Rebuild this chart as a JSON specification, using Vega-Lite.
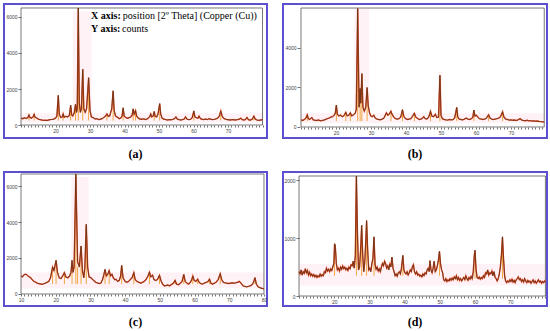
{
"$schema": "https://vega.github.io/schema/vega-lite/v6.json",
"padding": {"left": 3, "top": 3, "right": 0, "bottom": 0},
"bounds": "flush",
"columns": 2,
"spacing": {"row": 34, "column": 16},
"config": {
  "view": {"stroke": "#5b50cf", "strokeWidth": 2},
  "axis": {"domain": false, "grid": false, "tickColor": "#333", "tickWidth": 0.7, "labelFontSize": 5, "labelColor": "#444", "labelFont": "Liberation Sans", "title": null, "labelPadding": 1, "labelOverlap": false, "labelFlush": false},
  "title": {"font": "Liberation Serif", "fontSize": 12, "fontWeight": "bold", "color": "#000", "orient": "bottom", "offset": 11, "anchor": "middle"}
},
"datasets": {
"a": [{"t":10.0,"c":380},{"t":10.5,"c":350},{"t":11.0,"c":400},{"t":11.5,"c":360},{"t":12.0,"c":420},{"t":12.3,"c":560},{"t":12.6,"c":420},{"t":13.0,"c":380},{"t":13.5,"c":450},{"t":13.8,"c":600},{"t":14.1,"c":430},{"t":14.6,"c":380},{"t":15.0,"c":330},{"t":15.5,"c":300},{"t":16.0,"c":280},{"t":16.5,"c":260},{"t":17.0,"c":270},{"t":17.5,"c":250},{"t":18.0,"c":280},{"t":18.5,"c":300},{"t":19.0,"c":310},{"t":19.5,"c":330},{"t":20.0,"c":380},{"t":20.4,"c":500},{"t":20.8,"c":1650},{"t":21.1,"c":600},{"t":21.5,"c":420},{"t":22.0,"c":450},{"t":22.2,"c":620},{"t":22.5,"c":430},{"t":23.0,"c":480},{"t":23.5,"c":450},{"t":24.0,"c":520},{"t":24.4,"c":1100},{"t":24.7,"c":560},{"t":25.0,"c":500},{"t":25.4,"c":650},{"t":25.8,"c":1150},{"t":26.1,"c":700},{"t":26.3,"c":900},{"t":26.6,"c":6500},{"t":26.9,"c":1200},{"t":27.2,"c":700},{"t":27.5,"c":900},{"t":27.9,"c":3100},{"t":28.2,"c":900},{"t":28.6,"c":700},{"t":29.0,"c":900},{"t":29.6,"c":2630},{"t":30.0,"c":800},{"t":30.4,"c":450},{"t":31.0,"c":400},{"t":31.5,"c":330},{"t":32.0,"c":350},{"t":32.5,"c":300},{"t":33.0,"c":320},{"t":33.5,"c":350},{"t":34.0,"c":420},{"t":34.5,"c":500},{"t":34.9,"c":620},{"t":35.3,"c":480},{"t":35.7,"c":500},{"t":36.0,"c":700},{"t":36.3,"c":900},{"t":36.7,"c":1900},{"t":37.0,"c":800},{"t":37.4,"c":500},{"t":38.0,"c":420},{"t":38.5,"c":350},{"t":39.0,"c":400},{"t":39.3,"c":500},{"t":39.6,"c":960},{"t":39.9,"c":500},{"t":40.3,"c":420},{"t":40.8,"c":380},{"t":41.3,"c":400},{"t":41.8,"c":450},{"t":42.2,"c":550},{"t":42.5,"c":900},{"t":42.8,"c":600},{"t":43.2,"c":800},{"t":43.5,"c":500},{"t":44.0,"c":380},{"t":44.5,"c":330},{"t":45.0,"c":320},{"t":45.5,"c":340},{"t":46.0,"c":310},{"t":46.5,"c":330},{"t":47.0,"c":400},{"t":47.3,"c":450},{"t":47.6,"c":620},{"t":47.9,"c":450},{"t":48.3,"c":500},{"t":48.6,"c":750},{"t":48.9,"c":480},{"t":49.3,"c":450},{"t":49.7,"c":600},{"t":50.2,"c":1190},{"t":50.5,"c":600},{"t":50.9,"c":380},{"t":51.5,"c":320},{"t":52.0,"c":300},{"t":52.5,"c":280},{"t":53.0,"c":300},{"t":53.5,"c":290},{"t":54.0,"c":310},{"t":54.5,"c":350},{"t":54.9,"c":450},{"t":55.3,"c":330},{"t":55.8,"c":300},{"t":56.3,"c":280},{"t":56.8,"c":300},{"t":57.3,"c":330},{"t":57.7,"c":450},{"t":58.1,"c":320},{"t":58.6,"c":300},{"t":59.1,"c":310},{"t":59.6,"c":400},{"t":60.1,"c":780},{"t":60.4,"c":450},{"t":60.9,"c":400},{"t":61.3,"c":380},{"t":61.6,"c":500},{"t":62.0,"c":350},{"t":62.5,"c":320},{"t":63.0,"c":300},{"t":63.5,"c":330},{"t":64.0,"c":300},{"t":64.5,"c":350},{"t":65.0,"c":320},{"t":65.5,"c":300},{"t":66.0,"c":310},{"t":66.5,"c":340},{"t":67.0,"c":380},{"t":67.5,"c":500},{"t":67.9,"c":780},{"t":68.3,"c":500},{"t":68.7,"c":380},{"t":69.2,"c":330},{"t":69.7,"c":300},{"t":70.2,"c":290},{"t":70.7,"c":280},{"t":71.2,"c":300},{"t":71.7,"c":290},{"t":72.2,"c":280},{"t":72.7,"c":300},{"t":73.2,"c":320},{"t":73.7,"c":380},{"t":74.1,"c":300},{"t":74.6,"c":280},{"t":75.0,"c":300},{"t":75.5,"c":420},{"t":75.9,"c":300},{"t":76.4,"c":270},{"t":77.0,"c":320},{"t":77.5,"c":500},{"t":77.9,"c":320},{"t":78.5,"c":270},{"t":79.0,"c":260},{"t":79.5,"c":280},{"t":80.0,"c":300}],
"b": [{"t":10.0,"c":360},{"t":10.5,"c":330},{"t":11.0,"c":380},{"t":11.4,"c":450},{"t":11.8,"c":620},{"t":12.1,"c":420},{"t":12.5,"c":380},{"t":13.1,"c":480},{"t":13.5,"c":360},{"t":14.0,"c":340},{"t":14.5,"c":330},{"t":15.0,"c":350},{"t":15.5,"c":320},{"t":16.0,"c":330},{"t":16.5,"c":350},{"t":17.0,"c":380},{"t":17.5,"c":420},{"t":18.0,"c":450},{"t":18.5,"c":500},{"t":19.0,"c":520},{"t":19.5,"c":600},{"t":19.8,"c":700},{"t":20.1,"c":1110},{"t":20.4,"c":650},{"t":20.8,"c":560},{"t":21.3,"c":600},{"t":21.8,"c":520},{"t":22.3,"c":580},{"t":22.8,"c":750},{"t":23.2,"c":560},{"t":23.7,"c":600},{"t":24.1,"c":720},{"t":24.5,"c":560},{"t":25.0,"c":620},{"t":25.5,"c":700},{"t":25.8,"c":900},{"t":26.2,"c":6000},{"t":26.6,"c":1000},{"t":26.9,"c":1950},{"t":27.1,"c":1200},{"t":27.4,"c":2700},{"t":27.7,"c":1000},{"t":28.1,"c":800},{"t":28.5,"c":1000},{"t":28.9,"c":2000},{"t":29.2,"c":1100},{"t":29.6,"c":700},{"t":30.0,"c":550},{"t":30.4,"c":520},{"t":30.8,"c":600},{"t":31.2,"c":450},{"t":31.7,"c":400},{"t":32.2,"c":380},{"t":32.7,"c":370},{"t":33.2,"c":400},{"t":33.7,"c":450},{"t":34.1,"c":600},{"t":34.4,"c":720},{"t":34.8,"c":600},{"t":35.2,"c":650},{"t":35.7,"c":800},{"t":36.0,"c":650},{"t":36.5,"c":500},{"t":37.0,"c":420},{"t":37.5,"c":400},{"t":38.0,"c":420},{"t":38.5,"c":500},{"t":39.0,"c":880},{"t":39.4,"c":520},{"t":39.9,"c":420},{"t":40.4,"c":380},{"t":40.9,"c":400},{"t":41.4,"c":420},{"t":41.9,"c":550},{"t":42.4,"c":700},{"t":42.8,"c":500},{"t":43.3,"c":430},{"t":43.8,"c":380},{"t":44.3,"c":400},{"t":44.7,"c":450},{"t":45.1,"c":520},{"t":45.5,"c":420},{"t":46.0,"c":400},{"t":46.5,"c":500},{"t":47.0,"c":800},{"t":47.4,"c":550},{"t":47.9,"c":520},{"t":48.4,"c":650},{"t":48.8,"c":480},{"t":49.3,"c":500},{"t":49.7,"c":2620},{"t":50.0,"c":600},{"t":50.4,"c":420},{"t":50.9,"c":380},{"t":51.4,"c":360},{"t":51.9,"c":350},{"t":52.4,"c":380},{"t":52.9,"c":360},{"t":53.4,"c":370},{"t":53.9,"c":450},{"t":54.5,"c":990},{"t":54.8,"c":500},{"t":55.2,"c":400},{"t":55.7,"c":380},{"t":56.2,"c":360},{"t":56.7,"c":400},{"t":57.2,"c":450},{"t":57.7,"c":400},{"t":58.2,"c":380},{"t":58.7,"c":420},{"t":59.1,"c":500},{"t":59.4,"c":860},{"t":59.7,"c":550},{"t":60.1,"c":600},{"t":60.5,"c":500},{"t":61.0,"c":420},{"t":61.5,"c":400},{"t":62.0,"c":380},{"t":62.5,"c":400},{"t":63.0,"c":450},{"t":63.6,"c":620},{"t":64.0,"c":450},{"t":64.5,"c":400},{"t":65.0,"c":380},{"t":65.5,"c":400},{"t":66.0,"c":420},{"t":66.5,"c":450},{"t":67.0,"c":520},{"t":67.6,"c":770},{"t":68.0,"c":500},{"t":68.5,"c":400},{"t":69.0,"c":380},{"t":69.5,"c":350},{"t":70.0,"c":360},{"t":70.5,"c":340},{"t":71.0,"c":350},{"t":71.5,"c":330},{"t":72.0,"c":360},{"t":72.6,"c":420},{"t":73.1,"c":350},{"t":73.6,"c":330},{"t":74.1,"c":320},{"t":74.6,"c":340},{"t":75.1,"c":310},{"t":75.6,"c":320},{"t":76.1,"c":300},{"t":76.6,"c":310},{"t":77.1,"c":290},{"t":77.6,"c":300},{"t":78.1,"c":280},{"t":78.6,"c":270},{"t":79.1,"c":260},{"t":79.5,"c":250}],
"c": [{"t":10.0,"c":1000},{"t":10.4,"c":950},{"t":10.8,"c":1050},{"t":11.2,"c":1100},{"t":11.6,"c":1080},{"t":12.0,"c":1000},{"t":12.4,"c":950},{"t":12.8,"c":900},{"t":13.2,"c":800},{"t":13.6,"c":720},{"t":14.0,"c":680},{"t":14.5,"c":620},{"t":15.0,"c":580},{"t":15.5,"c":560},{"t":16.0,"c":540},{"t":16.5,"c":560},{"t":17.0,"c":600},{"t":17.5,"c":650},{"t":18.0,"c":700},{"t":18.5,"c":900},{"t":19.1,"c":1500},{"t":19.5,"c":1300},{"t":20.1,"c":1870},{"t":20.5,"c":1200},{"t":21.0,"c":900},{"t":21.5,"c":850},{"t":22.0,"c":1000},{"t":22.5,"c":1190},{"t":22.9,"c":950},{"t":23.5,"c":900},{"t":24.0,"c":1000},{"t":24.4,"c":1200},{"t":24.7,"c":1870},{"t":25.0,"c":1200},{"t":25.3,"c":1500},{"t":25.8,"c":6667},{"t":26.3,"c":1800},{"t":26.8,"c":1500},{"t":27.3,"c":2670},{"t":27.7,"c":1300},{"t":28.1,"c":900},{"t":28.4,"c":1500},{"t":28.8,"c":3870},{"t":29.2,"c":1500},{"t":29.6,"c":950},{"t":30.2,"c":900},{"t":30.6,"c":800},{"t":31.0,"c":750},{"t":31.5,"c":650},{"t":32.0,"c":620},{"t":32.5,"c":580},{"t":33.0,"c":600},{"t":33.5,"c":800},{"t":33.9,"c":1100},{"t":34.2,"c":1370},{"t":34.6,"c":1000},{"t":35.0,"c":1100},{"t":35.4,"c":1300},{"t":35.8,"c":1000},{"t":36.2,"c":1100},{"t":36.6,"c":900},{"t":37.0,"c":800},{"t":37.4,"c":820},{"t":37.8,"c":700},{"t":38.3,"c":750},{"t":38.7,"c":1000},{"t":39.0,"c":1590},{"t":39.4,"c":900},{"t":40.0,"c":700},{"t":40.5,"c":650},{"t":41.0,"c":700},{"t":41.5,"c":800},{"t":42.0,"c":900},{"t":42.5,"c":1190},{"t":42.9,"c":800},{"t":43.4,"c":700},{"t":44.0,"c":650},{"t":44.5,"c":600},{"t":45.0,"c":650},{"t":45.5,"c":700},{"t":46.0,"c":800},{"t":46.6,"c":1000},{"t":47.0,"c":1220},{"t":47.4,"c":950},{"t":47.9,"c":1050},{"t":48.3,"c":800},{"t":48.8,"c":750},{"t":49.3,"c":800},{"t":49.9,"c":1040},{"t":50.3,"c":750},{"t":50.8,"c":550},{"t":51.3,"c":450},{"t":51.8,"c":470},{"t":52.3,"c":500},{"t":52.8,"c":450},{"t":53.3,"c":520},{"t":53.9,"c":600},{"t":54.4,"c":760},{"t":54.8,"c":550},{"t":55.4,"c":520},{"t":55.9,"c":600},{"t":56.4,"c":700},{"t":56.9,"c":1090},{"t":57.3,"c":700},{"t":57.8,"c":600},{"t":58.3,"c":550},{"t":58.8,"c":650},{"t":59.2,"c":800},{"t":59.5,"c":1000},{"t":59.9,"c":750},{"t":60.4,"c":700},{"t":60.9,"c":830},{"t":61.3,"c":650},{"t":61.8,"c":580},{"t":62.3,"c":550},{"t":62.8,"c":600},{"t":63.4,"c":650},{"t":63.9,"c":700},{"t":64.3,"c":830},{"t":64.7,"c":600},{"t":65.2,"c":550},{"t":65.7,"c":600},{"t":66.2,"c":650},{"t":66.8,"c":800},{"t":67.4,"c":1130},{"t":67.8,"c":800},{"t":68.3,"c":650},{"t":68.8,"c":620},{"t":69.3,"c":600},{"t":69.8,"c":580},{"t":70.3,"c":600},{"t":70.8,"c":620},{"t":71.3,"c":600},{"t":71.8,"c":620},{"t":72.4,"c":650},{"t":72.9,"c":700},{"t":73.4,"c":600},{"t":74.0,"c":450},{"t":74.5,"c":420},{"t":75.0,"c":400},{"t":75.5,"c":420},{"t":76.0,"c":450},{"t":76.5,"c":500},{"t":77.0,"c":650},{"t":77.4,"c":910},{"t":77.8,"c":550},{"t":78.3,"c":400},{"t":78.8,"c":350},{"t":79.3,"c":320},{"t":79.7,"c":300},{"t":80.0,"c":280}],
"d": [{"t":10.0,"c":420},{"t":10.3,"c":380},{"t":10.6,"c":450},{"t":10.9,"c":360},{"t":11.2,"c":420},{"t":11.5,"c":390},{"t":11.8,"c":470},{"t":12.1,"c":400},{"t":12.4,"c":440},{"t":12.7,"c":360},{"t":13.0,"c":410},{"t":13.3,"c":350},{"t":13.6,"c":380},{"t":13.9,"c":340},{"t":14.2,"c":370},{"t":14.5,"c":330},{"t":14.8,"c":360},{"t":15.1,"c":320},{"t":15.4,"c":350},{"t":15.7,"c":330},{"t":16.0,"c":380},{"t":16.3,"c":340},{"t":16.6,"c":370},{"t":16.9,"c":350},{"t":17.2,"c":420},{"t":17.5,"c":400},{"t":17.8,"c":480},{"t":18.1,"c":430},{"t":18.4,"c":460},{"t":18.7,"c":420},{"t":19.0,"c":470},{"t":19.3,"c":440},{"t":19.6,"c":500},{"t":19.9,"c":560},{"t":20.1,"c":900},{"t":20.3,"c":870},{"t":20.6,"c":560},{"t":20.9,"c":450},{"t":21.2,"c":480},{"t":21.5,"c":430},{"t":21.8,"c":500},{"t":22.1,"c":460},{"t":22.4,"c":520},{"t":22.7,"c":470},{"t":23.0,"c":500},{"t":23.3,"c":450},{"t":23.6,"c":480},{"t":23.9,"c":440},{"t":24.2,"c":500},{"t":24.5,"c":470},{"t":24.8,"c":540},{"t":25.1,"c":520},{"t":25.4,"c":600},{"t":25.7,"c":480},{"t":26.0,"c":700},{"t":26.3,"c":2070},{"t":26.6,"c":1100},{"t":26.9,"c":450},{"t":27.2,"c":500},{"t":27.5,"c":800},{"t":27.8,"c":1220},{"t":28.1,"c":700},{"t":28.4,"c":420},{"t":28.7,"c":600},{"t":29.0,"c":1000},{"t":29.2,"c":1300},{"t":29.5,"c":800},{"t":29.8,"c":450},{"t":30.1,"c":480},{"t":30.4,"c":420},{"t":30.7,"c":560},{"t":31.0,"c":650},{"t":31.3,"c":1020},{"t":31.6,"c":550},{"t":31.9,"c":460},{"t":32.2,"c":500},{"t":32.5,"c":430},{"t":32.8,"c":470},{"t":33.1,"c":420},{"t":33.4,"c":500},{"t":33.7,"c":560},{"t":34.0,"c":520},{"t":34.3,"c":600},{"t":34.6,"c":560},{"t":34.9,"c":480},{"t":35.2,"c":520},{"t":35.5,"c":450},{"t":35.8,"c":550},{"t":36.1,"c":500},{"t":36.4,"c":670},{"t":36.7,"c":480},{"t":37.0,"c":420},{"t":37.3,"c":350},{"t":37.6,"c":380},{"t":37.9,"c":340},{"t":38.2,"c":400},{"t":38.5,"c":420},{"t":38.8,"c":380},{"t":39.1,"c":480},{"t":39.5,"c":700},{"t":39.8,"c":450},{"t":40.1,"c":400},{"t":40.4,"c":380},{"t":40.7,"c":420},{"t":41.0,"c":360},{"t":41.3,"c":400},{"t":41.6,"c":450},{"t":41.9,"c":420},{"t":42.2,"c":500},{"t":42.5,"c":540},{"t":42.8,"c":420},{"t":43.1,"c":380},{"t":43.4,"c":420},{"t":43.7,"c":360},{"t":44.0,"c":380},{"t":44.3,"c":340},{"t":44.6,"c":360},{"t":44.9,"c":330},{"t":45.2,"c":380},{"t":45.5,"c":350},{"t":45.8,"c":400},{"t":46.1,"c":380},{"t":46.4,"c":450},{"t":46.7,"c":480},{"t":47.0,"c":420},{"t":47.2,"c":610},{"t":47.5,"c":450},{"t":47.8,"c":400},{"t":48.1,"c":480},{"t":48.4,"c":600},{"t":48.7,"c":420},{"t":49.0,"c":450},{"t":49.3,"c":520},{"t":49.6,"c":620},{"t":49.9,"c":770},{"t":50.2,"c":560},{"t":50.5,"c":450},{"t":50.8,"c":400},{"t":51.1,"c":280},{"t":51.4,"c":260},{"t":51.7,"c":300},{"t":52.0,"c":250},{"t":52.3,"c":280},{"t":52.6,"c":260},{"t":52.9,"c":300},{"t":53.2,"c":270},{"t":53.5,"c":310},{"t":53.8,"c":280},{"t":54.1,"c":330},{"t":54.4,"c":300},{"t":54.7,"c":350},{"t":55.0,"c":280},{"t":55.3,"c":320},{"t":55.6,"c":270},{"t":55.9,"c":300},{"t":56.2,"c":260},{"t":56.5,"c":290},{"t":56.8,"c":320},{"t":57.1,"c":280},{"t":57.4,"c":350},{"t":57.7,"c":300},{"t":58.0,"c":270},{"t":58.3,"c":320},{"t":58.6,"c":290},{"t":58.9,"c":340},{"t":59.2,"c":300},{"t":59.5,"c":420},{"t":59.8,"c":700},{"t":60.0,"c":790},{"t":60.3,"c":450},{"t":60.6,"c":320},{"t":60.9,"c":300},{"t":61.2,"c":330},{"t":61.5,"c":290},{"t":61.8,"c":320},{"t":62.1,"c":300},{"t":62.4,"c":350},{"t":62.7,"c":320},{"t":63.0,"c":400},{"t":63.3,"c":380},{"t":63.6,"c":450},{"t":63.9,"c":360},{"t":64.2,"c":400},{"t":64.5,"c":380},{"t":64.8,"c":430},{"t":65.1,"c":350},{"t":65.4,"c":420},{"t":65.7,"c":320},{"t":66.0,"c":300},{"t":66.3,"c":260},{"t":66.6,"c":300},{"t":66.9,"c":380},{"t":67.2,"c":500},{"t":67.5,"c":700},{"t":67.8,"c":1020},{"t":68.1,"c":650},{"t":68.4,"c":350},{"t":68.7,"c":260},{"t":69.0,"c":230},{"t":69.3,"c":260},{"t":69.6,"c":240},{"t":69.9,"c":280},{"t":70.2,"c":250},{"t":70.5,"c":290},{"t":70.8,"c":240},{"t":71.1,"c":270},{"t":71.4,"c":230},{"t":71.7,"c":280},{"t":72.0,"c":300},{"t":72.3,"c":330},{"t":72.6,"c":280},{"t":72.9,"c":300},{"t":73.2,"c":250},{"t":73.5,"c":280},{"t":73.8,"c":240},{"t":74.1,"c":300},{"t":74.4,"c":260},{"t":74.7,"c":230},{"t":75.0,"c":270},{"t":75.3,"c":240},{"t":75.6,"c":260},{"t":75.9,"c":220},{"t":76.2,"c":250},{"t":76.5,"c":280},{"t":76.8,"c":230},{"t":77.1,"c":260},{"t":77.4,"c":220},{"t":77.7,"c":250},{"t":78.0,"c":280},{"t":78.3,"c":240},{"t":78.6,"c":260},{"t":78.9,"c":220},{"t":79.2,"c":250},{"t":79.5,"c":230},{"t":79.8,"c":260},{"t":80.0,"c":240}],
"sa": [{"t":12.3,"c":450,"b":250},{"t":13.8,"c":500,"b":250},{"t":20.8,"c":1500,"b":250},{"t":22.2,"c":500,"b":250},{"t":24.4,"c":900,"b":250},{"t":25.8,"c":1000,"b":250},{"t":26.6,"c":6000,"b":250},{"t":27.9,"c":2800,"b":250},{"t":29.6,"c":2400,"b":250},{"t":34.9,"c":500,"b":250},{"t":36.7,"c":1700,"b":250},{"t":39.6,"c":850,"b":250},{"t":42.5,"c":800,"b":250},{"t":43.2,"c":700,"b":250},{"t":48.6,"c":650,"b":250},{"t":50.2,"c":1100,"b":250},{"t":60.1,"c":700,"b":250},{"t":67.9,"c":700,"b":250},{"t":77.5,"c":450,"b":250}],
"sb": [{"t":11.8,"c":550,"b":300},{"t":20.1,"c":1000,"b":300},{"t":22.8,"c":650,"b":300},{"t":24.1,"c":650,"b":300},{"t":26.2,"c":5800,"b":300},{"t":26.9,"c":1800,"b":300},{"t":27.4,"c":2500,"b":300},{"t":28.9,"c":1900,"b":300},{"t":35.7,"c":700,"b":300},{"t":39.0,"c":800,"b":300},{"t":42.4,"c":600,"b":300},{"t":47.0,"c":700,"b":300},{"t":49.7,"c":2500,"b":300},{"t":54.5,"c":900,"b":300},{"t":59.4,"c":800,"b":300},{"t":63.6,"c":550,"b":300},{"t":67.6,"c":700,"b":300}],
"sc": [{"t":19.1,"c":1400,"b":550},{"t":20.1,"c":1700,"b":550},{"t":22.5,"c":1100,"b":550},{"t":24.7,"c":1700,"b":550},{"t":25.8,"c":6500,"b":550},{"t":26.3,"c":1500,"b":550},{"t":27.3,"c":2500,"b":550},{"t":28.8,"c":3700,"b":550},{"t":34.2,"c":1200,"b":550},{"t":35.4,"c":1200,"b":550},{"t":39.0,"c":1450,"b":550},{"t":42.5,"c":1100,"b":550},{"t":47.0,"c":1100,"b":550},{"t":49.9,"c":950,"b":550},{"t":54.4,"c":700,"b":550},{"t":56.9,"c":1000,"b":550},{"t":59.5,"c":900,"b":550},{"t":60.9,"c":750,"b":550},{"t":64.3,"c":750,"b":550},{"t":67.4,"c":1000,"b":550},{"t":77.4,"c":850,"b":550}],
"sd": [{"t":20.1,"c":850,"b":350},{"t":26.3,"c":2000,"b":350},{"t":27.8,"c":1150,"b":350},{"t":29.2,"c":1250,"b":350},{"t":31.3,"c":950,"b":350},{"t":39.5,"c":650,"b":350},{"t":49.9,"c":700,"b":350},{"t":60.0,"c":750,"b":300},{"t":67.8,"c":950,"b":300}],
"ra": [{"x0":10,"x1":80,"y0":150,"y1":650},{"x0":25,"x1":30.5,"y0":650,"y1":6300}],
"rb": [{"x0":10,"x1":79.5,"y0":200,"y1":700},{"x0":25.3,"x1":29.5,"y0":700,"y1":6000},{"x0":49.2,"x1":50.3,"y0":700,"y1":2800}],
"rc": [{"x0":10,"x1":80,"y0":300,"y1":1200},{"x0":24.5,"x1":29.5,"y0":1200,"y1":6500}],
"rd": [{"x0":10,"x1":80,"y0":180,"y1":550},{"x0":25.8,"x1":26.8,"y0":550,"y1":2000}],
"nb": [{"k":"X axis:","x":30.3,"y":6056},{"k":"Y axis:","x":30.3,"y":5333}],
"nn": [{"k":"position [2º Theta] (Copper (Cu))","x":39.5,"y":6056},{"k":"counts","x":39.3,"y":5333}]
},
"concat": [
{
 "width": 263, "height": 134,
 "title": {"text": "(a)"},
 "resolve": {"axis": {"x": "independent"}},
 "layer": [
  {"data": {"name": "ra"}, "mark": {"type": "rect", "color": "#ffc4d8", "opacity": 0.22},
   "encoding": {
    "x": {"field": "x0", "type": "quantitative", "scale": {"domain": [5.07, 81.3], "nice": false, "zero": false},
          "axis": {"orient": "bottom", "offset": -13, "tickSize": 2, "values": [20,30,40,50,60,70]}},
    "x2": {"field": "x1"},
    "y": {"field": "y0", "type": "quantitative", "scale": {"domain": [-722, 6722], "nice": false, "zero": false},
          "axis": {"offset": -17, "tickSize": 3, "values": [0, 2000, 4000, 6000], "format": "d"}},
    "y2": {"field": "y1"}}},
  {"data": {"values": [{}]}, "mark": {"type": "rect", "filled": false, "stroke": "#555", "strokeWidth": 0.8},
   "encoding": {"x": {"datum": 10, "type": "quantitative", "axis": {"orient": "bottom", "offset": -13, "tickSize": 2, "labels": false, "values": [10,11,12,13,14,15,16,17,18,19,21,22,23,24,25,26,27,28,29,31,32,33,34,35,36,37,38,39,41,42,43,44,45,46,47,48,49,51,52,53,54,55,56,57,58,59,61,62,63,64,65,66,67,68,69,71,72,73,74,75,76,77,78,79,80]}}, "x2": {"datum": 80}, "y": {"datum": 0, "type": "quantitative"}, "y2": {"datum": 6500}}},
  {"data": {"name": "sa"}, "mark": {"type": "rule", "color": "#f2a640", "strokeWidth": 1},
   "encoding": {"x": {"field": "t", "type": "quantitative", "axis": null}, "y": {"field": "b", "type": "quantitative"}, "y2": {"field": "c"}}},
  {"data": {"name": "a"}, "mark": {"type": "line", "color": "#e8421e", "strokeWidth": 1.4},
   "encoding": {"x": {"field": "t", "type": "quantitative", "axis": null}, "y": {"field": "c", "type": "quantitative"}}},
  {"data": {"name": "a"}, "mark": {"type": "line", "color": "#4d3519", "strokeWidth": 0.7},
   "encoding": {"x": {"field": "t", "type": "quantitative", "axis": null}, "y": {"field": "c", "type": "quantitative"}}},
  {"data": {"name": "nb"}, "mark": {"type": "text", "font": "Liberation Serif", "fontSize": 10, "fontWeight": "bold", "align": "left", "baseline": "middle", "color": "#000"},
   "encoding": {"x": {"field": "x", "type": "quantitative", "axis": null}, "y": {"field": "y", "type": "quantitative"}, "text": {"field": "k"}}},
  {"data": {"name": "nn"}, "mark": {"type": "text", "font": "Liberation Serif", "fontSize": 10, "align": "left", "baseline": "middle", "color": "#000"},
   "encoding": {"x": {"field": "x", "type": "quantitative", "axis": null}, "y": {"field": "y", "type": "quantitative"}, "text": {"field": "k"}}}
 ]
},
{
 "width": 264, "height": 134,
 "title": {"text": "(b)"},
 "resolve": {"axis": {"x": "independent"}},
 "layer": [
  {"data": {"name": "rb"}, "mark": {"type": "rect", "color": "#ffc4d8", "opacity": 0.22},
   "encoding": {
    "x": {"field": "x0", "type": "quantitative", "scale": {"domain": [4.86, 80.29], "nice": false, "zero": false},
          "axis": {"orient": "bottom", "offset": -11, "tickSize": 2, "values": [20,30,40,50,60,70]}},
    "x2": {"field": "x1"},
    "y": {"field": "y0", "type": "quantitative", "scale": {"domain": [-557, 6224], "nice": false, "zero": false},
          "axis": {"offset": -17, "tickSize": 3, "values": [0, 2000, 4000], "format": "d"}},
    "y2": {"field": "y1"}}},
  {"data": {"values": [{}]}, "mark": {"type": "rect", "filled": false, "stroke": "#555", "strokeWidth": 0.8},
   "encoding": {"x": {"datum": 10, "type": "quantitative", "axis": {"orient": "bottom", "offset": -11, "tickSize": 2, "labels": false, "values": [10,11,12,13,14,15,16,17,18,19,21,22,23,24,25,26,27,28,29,31,32,33,34,35,36,37,38,39,41,42,43,44,45,46,47,48,49,51,52,53,54,55,56,57,58,59,61,62,63,64,65,66,67,68,69,71,72,73,74,75,76,77,78,79]}}, "x2": {"datum": 79.5}, "y": {"datum": 0, "type": "quantitative"}, "y2": {"datum": 6020}}},
  {"data": {"name": "sb"}, "mark": {"type": "rule", "color": "#f2a640", "strokeWidth": 1},
   "encoding": {"x": {"field": "t", "type": "quantitative", "axis": null}, "y": {"field": "b", "type": "quantitative"}, "y2": {"field": "c"}}},
  {"data": {"name": "b"}, "mark": {"type": "line", "color": "#e8421e", "strokeWidth": 1.4},
   "encoding": {"x": {"field": "t", "type": "quantitative", "axis": null}, "y": {"field": "c", "type": "quantitative"}}},
  {"data": {"name": "b"}, "mark": {"type": "line", "color": "#4d3519", "strokeWidth": 0.7},
   "encoding": {"x": {"field": "t", "type": "quantitative", "axis": null}, "y": {"field": "c", "type": "quantitative"}}}
 ]
},
{
 "width": 263, "height": 134,
 "title": {"text": "(c)"},
 "resolve": {"axis": {"x": "independent"}},
 "layer": [
  {"data": {"name": "rc"}, "mark": {"type": "rect", "color": "#ffc4d8", "opacity": 0.22},
   "encoding": {
    "x": {"field": "x0", "type": "quantitative", "scale": {"domain": [5.1, 80.87], "nice": false, "zero": false},
          "axis": {"orient": "bottom", "offset": -12, "tickSize": 2, "values": [10,20,30,40,50,60,70,80]}},
    "x2": {"field": "x1"},
    "y": {"field": "y0", "type": "quantitative", "scale": {"domain": [-667, 6778], "nice": false, "zero": false},
          "axis": {"offset": -17, "tickSize": 3, "values": [0, 2000, 4000, 6000], "format": "d"}},
    "y2": {"field": "y1"}}},
  {"data": {"values": [{}]}, "mark": {"type": "rect", "filled": false, "stroke": "#555", "strokeWidth": 0.8},
   "encoding": {"x": {"datum": 10, "type": "quantitative", "axis": {"orient": "bottom", "offset": -12, "tickSize": 2, "labels": false, "values": [11,12,13,14,15,16,17,18,19,21,22,23,24,25,26,27,28,29,31,32,33,34,35,36,37,38,39,41,42,43,44,45,46,47,48,49,51,52,53,54,55,56,57,58,59,61,62,63,64,65,66,67,68,69,71,72,73,74,75,76,77,78,79]}}, "x2": {"datum": 80}, "y": {"datum": 0, "type": "quantitative"}, "y2": {"datum": 6667}}},
  {"data": {"name": "sc"}, "mark": {"type": "rule", "color": "#f2a640", "strokeWidth": 1},
   "encoding": {"x": {"field": "t", "type": "quantitative", "axis": null}, "y": {"field": "b", "type": "quantitative"}, "y2": {"field": "c"}}},
  {"data": {"name": "c"}, "mark": {"type": "line", "color": "#e8421e", "strokeWidth": 1.4},
   "encoding": {"x": {"field": "t", "type": "quantitative", "axis": null}, "y": {"field": "c", "type": "quantitative"}}},
  {"data": {"name": "c"}, "mark": {"type": "line", "color": "#4d3519", "strokeWidth": 0.7},
   "encoding": {"x": {"field": "t", "type": "quantitative", "axis": null}, "y": {"field": "c", "type": "quantitative"}}}
 ]
},
{
 "width": 264, "height": 134,
 "title": {"text": "(d)"},
 "resolve": {"axis": {"x": "independent"}},
 "layer": [
  {"data": {"name": "rd"}, "mark": {"type": "rect", "color": "#ffc4d8", "opacity": 0.22},
   "encoding": {
    "x": {"field": "x0", "type": "quantitative", "scale": {"domain": [5.45, 80.45], "nice": false, "zero": false},
          "axis": {"orient": "bottom", "offset": -10, "tickSize": 2, "values": [20,30,40,50,60,70]}},
    "x2": {"field": "x1"},
    "y": {"field": "y0", "type": "quantitative", "scale": {"domain": [-172, 2138], "nice": false, "zero": false},
          "axis": {"offset": -16, "tickSize": 3, "values": [0, 1000, 2000], "format": "d"}},
    "y2": {"field": "y1"}}},
  {"data": {"values": [{}]}, "mark": {"type": "rect", "filled": false, "stroke": "#555", "strokeWidth": 0.8},
   "encoding": {"x": {"datum": 10, "type": "quantitative", "axis": {"orient": "bottom", "offset": -10, "tickSize": 2, "labels": false, "values": [10,11,12,13,14,15,16,17,18,19,21,22,23,24,25,26,27,28,29,31,32,33,34,35,36,37,38,39,41,42,43,44,45,46,47,48,49,51,52,53,54,55,56,57,58,59,61,62,63,64,65,66,67,68,69,71,72,73,74,75,76,77,78,79,80]}}, "x2": {"datum": 80}, "y": {"datum": 0, "type": "quantitative"}, "y2": {"datum": 2069}}},
  {"data": {"name": "sd"}, "mark": {"type": "rule", "color": "#f2a640", "strokeWidth": 1},
   "encoding": {"x": {"field": "t", "type": "quantitative", "axis": null}, "y": {"field": "b", "type": "quantitative"}, "y2": {"field": "c"}}},
  {"data": {"name": "d"}, "mark": {"type": "line", "color": "#e8421e", "strokeWidth": 1.4},
   "encoding": {"x": {"field": "t", "type": "quantitative", "axis": null}, "y": {"field": "c", "type": "quantitative"}}},
  {"data": {"name": "d"}, "mark": {"type": "line", "color": "#4d3519", "strokeWidth": 0.7},
   "encoding": {"x": {"field": "t", "type": "quantitative", "axis": null}, "y": {"field": "c", "type": "quantitative"}}}
 ]
}
]
}
